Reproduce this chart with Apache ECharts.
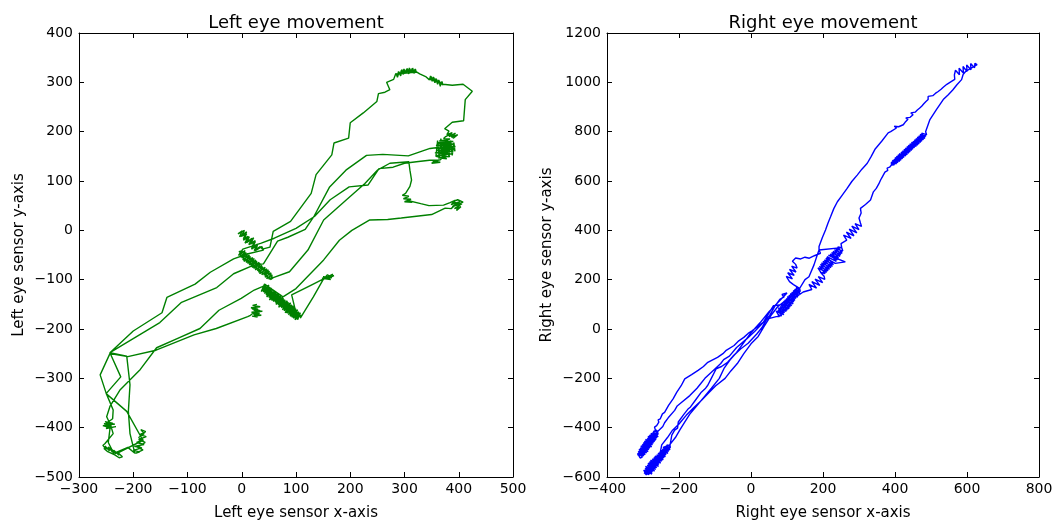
<!DOCTYPE html>
<html>
<head>
<meta charset="utf-8">
<script src="https://cdn.jsdelivr.net/npm/echarts/dist/echarts.min.js"></script>
<style>
  html, body { margin: 0; padding: 0; background: #fff; }
  #chart { width: 1063px; height: 521px; }
</style>
</head>
<body>
<div id="chart"></div>
<script>
// left eye trace, in reading order (x, y sensor values)
const leftLowerLoop = [
  [28, -150], [20, -152], [34, -155], [17, -157], [30, -160], [22, -162], [38, -164], [18, -166], [33, -168],
  [24, -170], [36, -172], [19, -174], [29, -176], [22, -170], [34, -163], [19, -159], [27, -154], [24, -165], [15, -173],
  [11, -175], [-47, -199], [-88, -212], [-158, -243], [-210, -256],
  [-243, -250], [-261, -293], [-250, -330], [-237, -364], [-238, -382],
  [-236, -386], [-248, -390], [-234, -393], [-254, -392], [-240, -396], [-256, -396], [-244, -400], [-232, -398],
  [-250, -402], [-238, -391], [-252, -388], [-242, -394],
  [-237, -412], [-252, -432],
  [-256, -436], [-250, -444], [-252, -437], [-244, -447], [-246, -439], [-238, -450], [-242, -443], [-232, -453],
  [-236, -446], [-226, -456], [-230, -449], [-220, -459], [-226, -461], [-234, -455], [-240, -452], [-248, -448],
  [-254, -442], [-244, -441], [-230, -452],
  [-181, -425], [-194, -430], [-180, -434], [-198, -438], [-184, -441], [-200, -446], [-188, -449], [-196, -452],
  [-182, -445], [-192, -440], [-178, -430], [-190, -424], [-176, -418], [-188, -414], [-177, -408], [-186, -404],
  [-180, -412], [-190, -420], [-182, -426],
  [-212, -367], [-250, -331], [-223, -297], [-243, -248]
];
const leftRiseToTop = [
  [-200, -204], [-147, -167], [-138, -136], [-86, -109], [-58, -85], [-15, -58], [10, -48], [40, -40],
  [37, -33], [25, -41], [29, -30], [18, -38], [25, -23], [16, -28], [22, -15], [9, -25], [14, -13], [3, -20],
  [9, -7], [-1, -12], [5, 0], [-7, -7], [1, -1], [-4, -13], [9, -3], [3, -17], [12, -12], [6, -26], [19, -16],
  [13, -29], [25, -21], [18, -35], [29, -28], [23, -41], [34, -33], [38, -38],
  [52, -34], [58, -2], [90, 18], [128, 75], [137, 113], [166, 153], [170, 177], [197, 187], [200, 218],
  [224, 238], [249, 261], [252, 277], [264, 280], [273, 285], [267, 300], [280, 306]
];
const leftTopLoop = [
  [282, 309], [284, 318], [287, 313], [289, 322], [292, 315], [294, 324], [297, 318], [299, 327], [302, 319],
  [304, 327], [307, 320], [309, 329], [312, 320], [314, 328], [317, 319], [319, 326], [322, 319],
  [320, 327], [318, 318], [315, 329], [313, 319], [310, 327], [308, 317], [305, 328], [303, 318], [300, 325],
  [298, 316], [295, 326], [293, 313], [290, 321], [287, 310], [285, 317], [283, 313], [322, 321],
  [325, 323], [328, 317], [331, 321], [334, 314], [337, 318], [340, 311], [343, 315], [346, 305], [348, 313],
  [351, 302], [353, 311], [356, 299], [358, 308], [361, 296], [363, 305], [366, 292], [368, 301], [371, 294],
  [369, 302], [367, 295], [364, 303], [362, 298], [359, 306], [357, 300], [354, 310], [352, 303], [349, 312],
  [347, 306], [371, 296],
  [388, 294], [408, 296], [425, 282], [412, 265], [409, 222], [388, 219], [374, 206],
  [382, 201], [378, 194], [388, 198], [382, 190], [394, 197], [386, 189], [398, 194], [390, 187], [384, 195], [376, 190],
  [372, 186], [384, 185], [364, 181], [390, 180], [360, 177], [392, 175], [358, 172], [394, 170], [360, 167],
  [392, 165], [358, 162], [390, 160], [356, 157], [388, 155], [358, 152], [384, 150], [362, 147], [378, 145],
  [358, 150], [361, 182], [364, 146], [367, 186], [370, 145], [373, 184], [376, 147], [379, 186], [382, 148],
  [385, 182], [388, 152], [391, 178], [393, 160], [390, 170], [366, 143],
  [352, 140], [366, 138], [350, 136], [362, 142], [346, 142]
];
const leftMiddleRun = [
  [322, 139], [300, 136], [279, 128], [253, 125], [233, 92], [198, 88], [163, 62], [134, 28], [100, 4],
  [60, -16], [36, -26], [2, -38],
  [0, -37], [-6, -51], [6, -41], [0, -56], [11, -47], [4, -63], [16, -53], [11, -67], [23, -57], [17, -71],
  [28, -63], [22, -77], [34, -67], [29, -82], [39, -74], [33, -88], [46, -78], [41, -91], [51, -83], [46, -98],
  [56, -90], [53, -100], [58, -96],
  [50, -99], [54, -86], [43, -95], [49, -80], [37, -90], [43, -75], [31, -85], [37, -71], [25, -80], [32, -65],
  [19, -75], [26, -60], [14, -70], [20, -55], [8, -65], [14, -50], [2, -60], [8, -45], [-3, -54], [1, -41],
  [-5, -43], [58, -96],
  [88, -84], [122, -40], [151, 21], [192, 61], [227, 95], [250, 122], [273, 136], [276, 138], [308, 139],
  [310, 122], [313, 102], [310, 89], [302, 75],
  [296, 71], [308, 69], [298, 64], [312, 63], [300, 58], [314, 57], [304, 61],
  [330, 54], [345, 50], [372, 51],
  [384, 56], [394, 61], [386, 52], [402, 58], [388, 48], [406, 54], [392, 44], [404, 48], [396, 40], [400, 52],
  [390, 58], [398, 62], [408, 57], [392, 50], [386, 44]
];
const leftReturn = [
  [375, 45], [350, 32], [294, 25], [269, 22], [236, 21], [203, 0], [180, -20], [151, -60], [100, -118], [76, -135],
  [42, -109], [36, -124], [50, -111], [42, -128], [55, -117], [46, -135], [60, -123], [51, -141], [67, -127],
  [58, -144], [73, -131], [63, -150], [77, -138], [68, -156], [84, -143], [75, -161], [90, -147], [80, -167],
  [95, -153], [86, -171], [100, -159], [92, -176], [105, -165], [98, -181], [110, -172], [108, -178],
  [132, -135], [150, -100],
  [158, -90], [166, -96], [150, -94], [164, -100], [148, -97], [170, -92], [156, -99], [168, -89],
  [130, -110], [92, -131],
  [103, -181], [108, -167], [95, -178], [103, -161], [89, -174], [98, -155], [83, -168], [92, -151], [78, -163],
  [86, -146], [73, -157], [80, -141], [67, -151], [75, -136], [62, -146], [68, -131], [55, -142], [63, -126],
  [50, -136], [56, -122], [45, -131], [51, -116], [40, -125], [44, -112], [38, -114],
  [42, -112], [39, -123], [49, -116], [45, -128], [54, -121], [50, -134], [61, -125], [55, -139], [66, -131],
  [61, -144], [72, -136], [67, -149], [78, -141], [72, -155], [83, -146], [78, -160], [89, -151], [84, -165],
  [95, -156], [89, -170], [100, -162], [96, -174], [105, -168], [102, -179], [38, -114]
];
const leftLowerReturn = [
  [23, -121], [-1, -138], [-42, -162], [-77, -199], [-118, -219], [-157, -238],
  [-187, -282], [-224, -323], [-243, -357], [-249, -378], [-242, -394], [-246, -430], [-236, -452], [-210, -440],
  [-197, -452],
  [-206, -412], [-209, -367], [-206, -313], [-212, -255], [-243, -248],
  [-151, -187], [-111, -146], [-46, -116], [-15, -88], [21, -71], [40, -68],
  [66, -22], [85, -14], [117, 2], [134, 30], [162, 88], [192, 122], [230, 152], [260, 154], [307, 151],
  [347, 166], [362, 168]
];

// right eye trace
const rightFirstRise = [
  [-296, -580], [-281, -586], [-292, -564], [-273, -575], [-284, -551], [-266, -563], [-277, -539], [-258, -550],
  [-269, -528], [-252, -537], [-262, -515], [-245, -524], [-253, -504], [-239, -511], [-246, -492], [-233, -497],
  [-238, -481], [-226, -485], [-226, -473],
  [-225, -472], [-234, -470], [-225, -490], [-243, -480], [-231, -504], [-251, -491], [-238, -518], [-258, -503],
  [-244, -531], [-267, -515], [-251, -544], [-274, -527], [-257, -557], [-282, -538], [-265, -569], [-288, -552],
  [-274, -580], [-294, -565], [-283, -590], [-297, -583],
  [-290, -592], [-298, -572], [-275, -588], [-293, -557], [-268, -576], [-286, -544], [-262, -562], [-279, -532],
  [-256, -549], [-270, -521], [-248, -536], [-262, -510], [-242, -522], [-254, -498], [-236, -509], [-246, -487],
  [-229, -496], [-237, -476], [-224, -481], [-225, -472],
  [-220, -430], [-212, -410], [-204, -402], [-202, -377], [-186, -345], [-174, -323], [-168, -316], [-155, -290],
  [-138, -256], [-126, -240], [-120, -228], [-111, -202], [-97, -162], [-82, -152], [-65, -135], [-50, -110],
  [-29, -81], [-8, -58], [16, -20], [30, 5], [44, 40], [70, 50],
  [79, 50], [70, 72], [91, 58], [76, 86], [98, 71], [83, 99], [106, 82], [90, 112], [113, 95], [98, 123],
  [119, 110], [105, 136], [125, 124], [113, 148], [131, 138], [121, 160], [137, 152], [135, 165],
  [125, 166], [136, 143], [117, 155], [130, 129], [109, 143], [122, 116], [101, 131], [117, 102], [94, 118],
  [109, 89], [88, 104], [101, 77], [81, 91], [93, 66], [75, 77], [85, 54], [75, 55], [135, 165],
  [118, 180],
  [107, 192], [98, 213], [115, 203], [102, 228], [120, 217], [107, 242], [125, 231], [113, 255], [128, 247], [124, 262],
  [115, 275], [124, 288], [138, 284], [150, 291], [162, 287], [176, 297], [193, 307], [189, 320],
  [189, 334], [198, 370], [207, 401], [214, 430], [221, 455], [230, 488], [240, 516], [252, 540], [267, 570],
  [280, 598], [295, 624], [308, 648], [323, 672], [334, 700], [345, 730], [363, 761],
  [381, 795], [388, 800], [383, 807], [392, 804], [404, 815], [398, 822], [410, 820], [423, 828], [418, 836],
  [428, 838], [436, 850], [430, 856], [442, 858], [450, 869], [444, 876], [456, 879], [462, 888], [457, 894],
  [468, 895], [474, 903], [469, 910], [480, 913], [486, 922], [481, 928], [492, 930], [497, 936], [492, 943],
  [505, 946], [512, 955], [507, 961], [520, 963], [528, 972], [523, 978], [534, 980], [538, 984], [544, 992],
  [557, 1004], [552, 1010], [566, 1012], [565, 1030]
];
const rightUpperLoop = [
  [567, 1030], [568, 1049], [579, 1031], [578, 1057], [590, 1038], [589, 1064], [600, 1044], [599, 1070],
  [611, 1051], [610, 1076], [621, 1059], [622, 1077], [628, 1072],
  [614, 1060], [596, 1044], [589, 1031], [585, 1011], [572, 990], [561, 970], [548, 950], [534, 930], [515, 889],
  [497, 849], [485, 800],
  [488, 788], [474, 794], [483, 773], [466, 783], [475, 762], [458, 772], [467, 751], [450, 761], [459, 740],
  [441, 750], [450, 729], [433, 739], [442, 718], [425, 728], [434, 707], [417, 717], [425, 696], [408, 706],
  [417, 685], [400, 695], [408, 675], [393, 683], [398, 666], [390, 665],
  [390, 676], [404, 670], [397, 688], [413, 680], [404, 700], [421, 691], [412, 711], [430, 702], [421, 722],
  [438, 713], [429, 733], [446, 724], [437, 744], [454, 735], [446, 756], [463, 746], [454, 767], [471, 757],
  [462, 778], [479, 768], [470, 789], [485, 781], [485, 792],
  [480, 793], [483, 779], [470, 783], [475, 768], [462, 772], [467, 757], [454, 761], [458, 746], [446, 750],
  [450, 735], [437, 739], [442, 723], [429, 728], [434, 712], [421, 717], [425, 701], [413, 706], [417, 690],
  [404, 695], [409, 679], [396, 684], [399, 670], [392, 668], [390, 665]
];
const rightMiddleDrop = [
  [385, 656], [378, 652], [380, 643], [372, 636], [375, 628], [366, 620], [368, 612], [360, 604], [362, 596],
  [355, 588], [357, 580], [348, 570], [340, 556], [332, 523], [318, 505], [304, 489], [306, 470], [300, 450], [304, 430],
  [307, 416], [289, 427], [300, 403], [280, 417], [294, 390], [273, 405], [286, 378], [265, 393], [278, 367],
  [257, 381], [266, 360], [262, 365],
  [250, 346],
  [252, 330], [241, 333], [253, 307], [232, 322], [247, 294], [224, 310], [240, 280], [215, 299], [262, 272],
  [234, 266], [208, 287], [226, 254], [200, 274], [218, 242], [193, 262], [210, 230], [186, 248], [196, 225], [192, 230],
  [203, 214], [205, 201], [187, 212], [199, 188], [178, 202], [191, 177], [169, 192], [182, 166], [161, 181],
  [169, 160], [165, 165],
  [145, 150], [120, 125], [90, 100], [62, 94],
  [34, 27], [3, -7], [-8, -18], [-20, -34], [-34, -48], [-47, -67], [-70, -88], [-78, -100], [-93, -115],
  [-120, -135], [-132, -152], [-147, -168], [-165, -185], [-184, -202], [-194, -230], [-206, -256], [-216, -282],
  [-229, -310], [-240, -338], [-246, -344], [-244, -352], [-252, -364], [-258, -368], [-256, -378], [-262, -392],
  [-268, -398], [-266, -408], [-260, -414],
  [-256, -419], [-270, -413], [-258, -437], [-278, -423], [-264, -450], [-286, -435], [-271, -463], [-293, -448],
  [-276, -478], [-299, -461], [-284, -489], [-306, -474], [-290, -502], [-311, -488], [-298, -514], [-315, -504],
  [-308, -523],
  [-302, -519], [-313, -496], [-294, -509], [-308, -482], [-286, -497], [-302, -468], [-281, -483], [-296, -455],
  [-274, -470], [-288, -443], [-268, -457], [-282, -430], [-262, -442], [-273, -419], [-258, -427], [-260, -414],
  [-257, -422], [-271, -416], [-262, -438], [-279, -428], [-267, -452], [-286, -441], [-274, -465], [-292, -454],
  [-280, -478], [-299, -467], [-288, -490], [-304, -481], [-294, -503], [-310, -494], [-302, -515], [-315, -510],
  [-262, -420]
];
const rightLowerStrands = [
  [-245, -395], [-240, -380], [-230, -360], [-212, -330], [-205, -312], [-195, -300],
  [-170, -270], [-150, -240], [-140, -222], [-128, -200], [-110, -175], [-84, -140], [-76, -124], [-60, -110],
  [-40, -75], [-12, -40], [10, -10], [30, 20], [52, 55], [66, 92], [80, 120], [92, 130], [86, 140], [100, 146],
  [70, 100], [50, 70], [25, 25], [0, -15], [-20, -55], [-40, -95], [-58, -125], [-75, -160], [-88, -200],
  [-110, -240], [-130, -275], [-150, -310], [-170, -345], [-185, -380], [-198, -410], [-210, -440], [-226, -470],
  [-244, -480], [-236, -490], [-252, -500], [-248, -470],
  [-232, -440], [-218, -410], [-200, -385], [-180, -350], [-160, -320], [-138, -290], [-118, -260], [-98, -230],
  [-72, -200], [-56, -170], [-38, -140], [-20, -100], [0, -60], [20, -30], [36, 10], [58, 60], [74, 90],
  [100, 120], [129, 150], [150, 200], [161, 212], [175, 260], [184, 300], [189, 320],
  [252, 330], [255, 316], [237, 326], [249, 301], [228, 315], [243, 287], [220, 304], [237, 274], [211, 293],
  [229, 261], [204, 280], [222, 249], [196, 268], [214, 236], [190, 254], [206, 225], [192, 230]
];

const leftEye = [].concat(leftLowerLoop, leftRiseToTop, leftTopLoop, leftMiddleRun, leftReturn, leftLowerReturn);
const rightEye = [].concat(rightFirstRise, rightUpperLoop, rightMiddleDrop, rightLowerStrands);

const font = "DejaVu Sans";
const minus = (v) => String(v).replace("-", "\u2212");

function axis(gridIndex, position, min, max, interval, name) {
  const bottomOrLeft = position === "bottom" || position === "left";
  return {
    type: "value",
    gridIndex: gridIndex,
    position: position,
    min: min,
    max: max,
    interval: interval,
    name: bottomOrLeft ? name : "",
    nameLocation: "middle",
    nameGap: position === "bottom" ? 29 : 52,
    nameTextStyle: { color: "#000", fontFamily: font, fontSize: 15 },
    axisLine: { show: true, onZero: false, lineStyle: { color: "#000", width: 1 } },
    axisTick: { show: true, inside: true, length: 5, lineStyle: { color: "#000" } },
    axisLabel: {
      show: bottomOrLeft,
      margin: position === "bottom" ? 5 : 6,
      color: "#000",
      fontFamily: font,
      fontSize: 14,
      formatter: minus,
    },
    splitLine: { show: false },
  };
}

const chart = echarts.init(document.getElementById("chart"), null, { renderer: "canvas" });
chart.setOption({
  animation: false,
  backgroundColor: "#fff",
  title: [
    {
      text: "Left eye movement",
      left: 291,
      top: 9,
      textAlign: "center",
      textStyle: { color: "#000", fontFamily: font, fontSize: 18, fontWeight: "normal" },
    },
    {
      text: "Right eye movement",
      left: 818,
      top: 9,
      textAlign: "center",
      textStyle: { color: "#000", fontFamily: font, fontSize: 18, fontWeight: "normal" },
    },
  ],
  grid: [
    { left: 79, top: 33, width: 434, height: 444, outerBoundsMode: "none", containLabel: false },
    { left: 607, top: 33, width: 432, height: 444, outerBoundsMode: "none", containLabel: false },
  ],
  xAxis: [
    axis(0, "bottom", -300, 500, 100, "Left eye sensor x-axis"),
    axis(0, "top", -300, 500, 100),
    axis(1, "bottom", -400, 800, 200, "Right eye sensor x-axis"),
    axis(1, "top", -400, 800, 200),
  ],
  yAxis: [
    axis(0, "left", -500, 400, 100, "Left eye sensor y-axis"),
    axis(0, "right", -500, 400, 100),
    axis(1, "left", -600, 1200, 200, "Right eye sensor y-axis"),
    axis(1, "right", -600, 1200, 200),
  ],
  series: [
    {
      name: "Left eye",
      type: "line",
      xAxisIndex: 0,
      yAxisIndex: 0,
      data: leftEye,
      showSymbol: false,
      symbol: "none",
      lineStyle: { color: "#008000", width: 1.4 },
    },
    {
      name: "Right eye",
      type: "line",
      xAxisIndex: 2,
      yAxisIndex: 2,
      data: rightEye,
      showSymbol: false,
      symbol: "none",
      lineStyle: { color: "#0000ff", width: 1.4 },
    },
  ],
});
</script>
</body>
</html>
